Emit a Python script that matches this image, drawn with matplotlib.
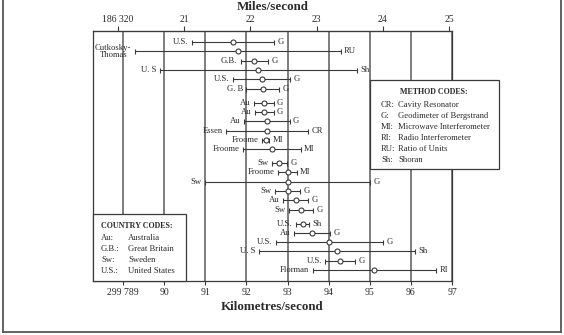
import matplotlib
matplotlib.use("Agg")
import matplotlib.pyplot as plt
from matplotlib.patches import Rectangle
from matplotlib.lines import Line2D

plt.rcParams["font.family"] = ["Liberation Serif", "DejaVu Serif"]

# measurements of the speed of light, top to bottom
who = ["U.S.", "Cutkosky-\nThomas", "G.B.", "U. S", "U.S.", "G. B",
       "Au", "Au", "Au", "Essen", "Froome", "Froome",
       "Sw", "Froome", "Sw", "Sw", "Au", "Sw",
       "U.S.", "Au", "U.S.", "U. S", "U.S.", "Florman"]
method = ["G", "RU", "G", "Sh", "G", "G",
          "G", "G", "G", "CR", "MI", "MI",
          "G", "MI", "G", "G", "G", "G",
          "Sh", "G", "G", "Sh", "G", "RI"]
speed_kms = [299791.68, 299791.79, 299792.19, 299792.29, 299792.37, 299792.40,
             299792.42, 299792.43, 299792.50, 299792.50, 299792.47, 299792.62,
             299792.80, 299793.00, 299793.00, 299793.00, 299793.20, 299793.33,
             299793.37, 299793.59, 299794.02, 299794.20, 299794.28, 299795.11]
error_kms = [1.0, 2.5, 0.33, 2.4, 0.7, 0.4,
             0.24, 0.23, 0.55, 1.0, 0.08, 0.7,
             0.18, 0.22, 2.0, 0.3, 0.31, 0.29,
             0.16, 0.44, 1.3, 1.9, 0.36, 1.5]

km_ticks = [299789, 299790, 299791, 299792, 299793, 299794, 299795, 299796, 299797]
km_labels = ["299 789", "90", "91", "92", "93", "94", "95", "96", "97"]
mi_ticks = [186320, 186321, 186322, 186323, 186324, 186325]
mi_labels = ["186 320", "21", "22", "23", "24", "25"]

country_codes = ["Au:", "G.B.:", "Sw:", "U.S.:"]
country_names = ["Australia", "Great Britain", "Sweden", "United States"]
method_codes = ["CR:", "G:", "MI:", "RI:", "RU:", "Sh:"]
method_names = ["Cavity Resonator", "Geodimeter of Bergstrand",
                "Microwave Interferometer", "Radio Interferometer",
                "Ratio of Units", "Shoran"]

W, H = 564, 335
INK = "#2b2b2b"
LINE = "#3a3a3a"
GRID = "#5a5a5a"


def fx(px):
    return px / W


def fy(py):
    return 1 - py / H


def km_to_mi(km):
    return 186322 + (km - 299792.10) / 1.609344


def mi_to_km(mi):
    return 299792.10 + (mi - 186322) * 1.609344


fig = plt.figure(figsize=(W / 100, H / 100), dpi=100)
ax = fig.add_axes([fx(93), fy(281), fx(452) - fx(93), fy(31) - fy(281)])

# rows come in blocks of six with a little extra space between blocks
rows = [1.2 + i + 0.5 * (i // 6) for i in range(len(speed_kms))]

ax.errorbar(speed_kms, rows, xerr=error_kms, fmt="o", color=LINE,
            ecolor=LINE, elinewidth=0.8, capsize=1.8, capthick=0.8,
            ms=3.6, mfc="white", mec=LINE, mew=0.8, zorder=3)

for x, e, y, left, right in zip(speed_kms, error_kms, rows, who, method):
    ax.annotate(left, (x - e, y), xytext=(-2.5, 0), textcoords="offset points",
                ha="right", va="center", fontsize=6.2, color=INK,
                multialignment="center", linespacing=0.95)
    ax.annotate(right, (x + e, y), xytext=(2.5, 0), textcoords="offset points",
                ha="left", va="center", fontsize=6.2, color=INK)

ax.set_xlim(299788.27, 299797)
ax.set_ylim(26.88, 0)
ax.set_yticks([])
ax.set_xticks(km_ticks)
ax.set_xticklabels(km_labels)
ax.tick_params(axis="x", direction="out", length=3, width=0.8, color=LINE,
               labelsize=7, labelcolor=INK, pad=2)
ax.xaxis.grid(True, color=GRID, lw=1.1)
ax.set_axisbelow(True)
for s in ax.spines.values():
    s.set_color(LINE)
    s.set_linewidth(0.9)

top = ax.secondary_xaxis("top", functions=(km_to_mi, mi_to_km))
top.set_xticks(mi_ticks)
top.set_xticklabels(mi_labels)
top.tick_params(direction="out", length=3.5, width=0.8, color=LINE,
                labelsize=7, labelcolor=INK, pad=1.5)
top.spines["top"].set_color(LINE)

fig.text(fx(272.5), fy(7.5), "Miles/second", ha="center", va="center",
         fontsize=9.4, fontweight="bold", color=INK)
fig.text(fx(272.5), fy(306.5), "Kilometres/second", ha="center", va="center",
         fontsize=9.4, fontweight="bold", color=INK)

# country code key, bottom left
fig.add_artist(Rectangle((fx(93), fy(281)), fx(186) - fx(93), fy(214) - fy(281),
                         transform=fig.transFigure, facecolor="white",
                         edgecolor=LINE, lw=0.9, zorder=1))
fig.text(fx(101), fy(225.5), "COUNTRY CODES:", ha="left", va="center",
         fontsize=5.8, fontweight="bold", color=INK, zorder=2)
for i, (c, n) in enumerate(zip(country_codes, country_names)):
    yy = 237.7 + i * 11.2
    fig.text(fx(101), fy(yy), c, ha="left", va="center", fontsize=6.2,
             color=INK, zorder=2)
    fig.text(fx(128), fy(yy), n, ha="left", va="center", fontsize=6.2,
             color=INK, zorder=2)

# method code key, right
fig.add_artist(Rectangle((fx(370), fy(169)), fx(499) - fx(370), fy(80) - fy(169),
                         transform=fig.transFigure, facecolor="white",
                         edgecolor=LINE, lw=0.9, zorder=1))
fig.text(fx(434), fy(91.5), "METHOD CODES:", ha="center", va="center",
         fontsize=5.8, fontweight="bold", color=INK, zorder=2)
for i, (c, n) in enumerate(zip(method_codes, method_names)):
    yy = 105 + i * 10.9
    fig.text(fx(381), fy(yy), c, ha="left", va="center", fontsize=6.2,
             color=INK, zorder=2)
    fig.text(fx(398), fy(yy), n, ha="left", va="center", fontsize=6.2,
             color=INK, zorder=2)

# frame around the whole figure
for xs, ys in [([3, 3], [0, 332]), ([561, 561], [0, 332]), ([3, 561], [332, 332])]:
    fig.add_artist(Line2D([fx(v) for v in xs], [fy(v) for v in ys],
                          transform=fig.transFigure, color="#555555", lw=1.3))

fig.savefig("out.png", dpi=100)
